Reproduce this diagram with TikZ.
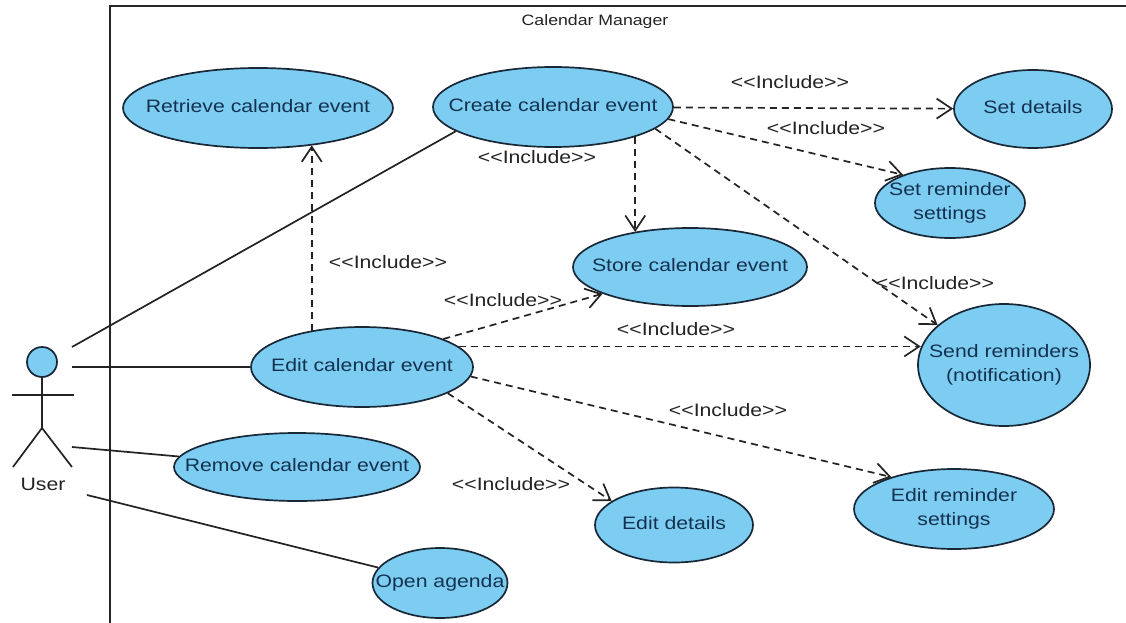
\documentclass[tikz,border=0pt]{standalone}
\usepackage{fontspec}
\setmainfont[FakeStretch=1.18]{Liberation Sans}
\usetikzlibrary{arrows.meta,shapes.geometric,calc}

\definecolor{ucfill}{RGB}{125,205,242}
\definecolor{ucline}{RGB}{25,40,55}
\definecolor{uctext}{RGB}{20,50,80}
\definecolor{lbl}{RGB}{35,35,35}

% centred text of zero width, so the ellipse keeps its given size
\newcommand{\uctxt}[1]{\makebox[0pt]{\begin{tabular}{@{}c@{}}#1\end{tabular}}}
\newcommand{\incl}{<{}<Include>{}>}

\tikzset{
  usecase/.style={ellipse, draw=ucline, fill=ucfill, line width=1.7pt,
    inner sep=0pt, text=uctext, font=\fontsize{18}{24}\selectfont},
  assoc/.style={draw=lbl, line width=1.7pt},
  incl/.style={draw=lbl, line width=1.7pt, dash pattern=on 7pt off 5pt,
    -{Straight Barb[length=15pt,width=20pt]}},
  incllabel/.style={text=lbl, font=\fontsize{18}{20}\selectfont, inner sep=0pt},
}

\begin{document}
\begin{tikzpicture}[x=1pt,y=-1pt]
\useasboundingbox (0,0) rectangle (1126,623);
\fill[white] (0,0) rectangle (1126,623);

% system boundary
\draw[line width=2pt, draw=black!85] (110,623) -- (110,6) -- (1126,6);
\node[text=lbl, font=\fontsize{15}{17}\selectfont] (title) at (595,22) {Calendar Manager};

% use cases
\node[usecase, minimum width=270pt, minimum height=80pt] (retrieve) at (258,108) {\uctxt{Retrieve calendar event}};
\node[usecase, minimum width=240pt, minimum height=80pt] (create) at (553,107) {\uctxt{Create calendar event}};
\node[usecase, minimum width=158pt, minimum height=78pt] (setdet) at (1033,109) {\uctxt{Set details}};
\node[usecase, minimum width=150pt, minimum height=70pt] (setrem) at (950,203) {\uctxt{Set reminder\\settings}};
\node[usecase, minimum width=234pt, minimum height=78pt] (store) at (690,267) {\uctxt{Store calendar event}};
\node[usecase, minimum width=172pt, minimum height=122pt] (send) at (1004,365) {\uctxt{Send reminders\\(notification)}};
\node[usecase, minimum width=222pt, minimum height=80pt] (edit) at (362,367) {\uctxt{Edit calendar event}};
\node[usecase, minimum width=246pt, minimum height=68pt] (remove) at (297,467) {\uctxt{Remove calendar event}};
\node[usecase, minimum width=158pt, minimum height=75pt] (editdet) at (674,525) {\uctxt{Edit details}};
\node[usecase, minimum width=200pt, minimum height=80pt] (editrem) at (954,509) {\uctxt{Edit reminder\\settings}};
\node[usecase, minimum width=135pt, minimum height=70pt] (agenda) at (440,583) {\uctxt{Open agenda}};

% actor
\node[circle, draw=ucline, fill=ucfill, line width=1.7pt, minimum size=30pt, inner sep=0pt] (head) at (42,362) {};
\coordinate (hip) at (42,428);
\coordinate (armL) at (12,395);
\coordinate (armR) at (74,395);
\coordinate (footL) at (13,467);
\coordinate (footR) at (72,467);
\draw[assoc] (head.south) -- (hip);
\draw[assoc] (armL) -- (armR);
\draw[assoc] (footL) -- (hip) -- (footR);
\node[text=lbl, font=\fontsize{18}{20}\selectfont] (user) at (43,484) {User};

% associations
\coordinate (a1) at (72,347);
\coordinate (a2) at (72,367);
\coordinate (a3) at (72,447);
\coordinate (a4) at (87,495);
\draw[assoc] (a1) -- (create.194);
\draw[assoc] (a2) -- (edit);
\draw[assoc] (a3) -- (remove);
\draw[assoc] (a4) -- (agenda);

% include relations
\draw[incl] (create) -- (setdet);
\draw[incl] (create.-6) -- (setrem.149);
\draw[incl] (create.-20) -- (create.-20 |- store.148);
\draw[incl] (create.-12) -- (send.149);
\draw[incl] (edit.144) -- (edit.144 |- retrieve.-34);
\draw[incl] (edit.19) -- (store.197);
\draw[incl] (edit.12) -- (edit.12 -| send.168);
\draw[incl] (edit.-5) -- (editrem.153);
\draw[incl] (edit.-17) -- (editdet.159);

\node[incllabel] (l1) at (790,82) {\incl};
\node[incllabel] (l2) at (826,128) {\incl};
\node[incllabel] (l3) at (537,157) {\incl};
\node[incllabel] (l4) at (935,283) {\incl};
\node[incllabel] (l5) at (388,262) {\incl};
\node[incllabel] (l6) at (503,300) {\incl};
\node[incllabel] (l7) at (676,329) {\incl};
\node[incllabel] (l8) at (728,410) {\incl};
\node[incllabel] (l9) at (511,484) {\incl};
\end{tikzpicture}
\end{document}
